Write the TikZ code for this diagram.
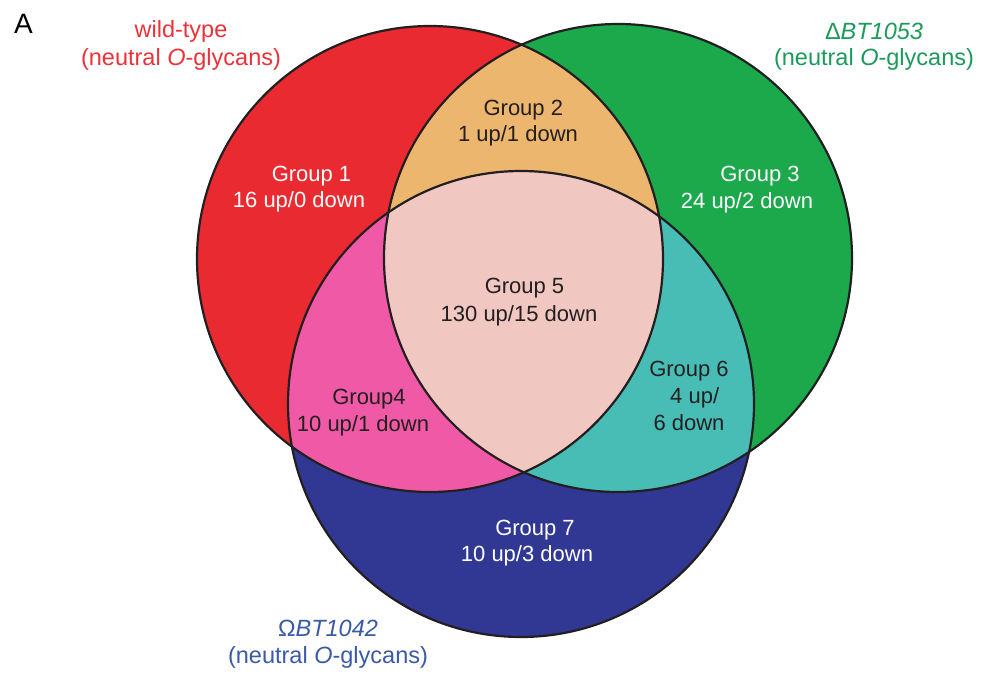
\documentclass[tikz,border=0pt]{standalone}
\usepackage{fontspec}
\setmainfont{Liberation Sans}
\definecolor{vred}{HTML}{EA2A31}
\definecolor{vgreen}{HTML}{1BA94C}
\definecolor{vblue}{HTML}{313894}
\definecolor{vorange}{HTML}{ECB66E}
\definecolor{vpink}{HTML}{F059A6}
\definecolor{vteal}{HTML}{48BDB6}
\definecolor{vcenter}{HTML}{F1C7C2}
\definecolor{lineblack}{HTML}{231F20}
\definecolor{tred}{HTML}{EC3239}
\definecolor{tgreen}{HTML}{1B9A5A}
\definecolor{tblue}{HTML}{3A5AA8}
\begin{document}
\begin{tikzpicture}[x=1pt,y=-1pt,
  grp/.style={anchor=base,inner sep=0pt,font=\fontsize{22}{27}\selectfont},
  gwhite/.style={grp,text=white},
  gdark/.style={grp,text=lineblack},
  lbl/.style={anchor=base,inner sep=0pt,font=\fontsize{23.5}{28}\selectfont},
  ring/.style={draw=lineblack,line width=2.2pt}]
\useasboundingbox (0,0) rectangle (984,678);
\coordinate (cr) at (430,259);
\coordinate (cg) at (618,258);
\coordinate (cb) at (521,404);
% base circles
\fill[vred] (cr) circle[radius=233pt];
\fill[vgreen] (cg) circle[radius=234pt];
\fill[vblue] (cb) circle[radius=233pt];
% pairwise intersections
\begin{scope}
  \clip (cr) circle[radius=233pt];
  \fill[vorange] (cg) circle[radius=234pt];
\end{scope}
\begin{scope}
  \clip (cr) circle[radius=233pt];
  \fill[vpink] (cb) circle[radius=233pt];
\end{scope}
\begin{scope}
  \clip (cg) circle[radius=234pt];
  \fill[vteal] (cb) circle[radius=233pt];
\end{scope}
\begin{scope}
  \clip (cr) circle[radius=233pt];
  \clip (cg) circle[radius=234pt];
  \fill[vcenter] (cb) circle[radius=233pt];
\end{scope}
% outlines
\draw[ring] (cr) circle[radius=233pt];
\draw[ring] (cg) circle[radius=234pt];
\draw[ring] (cb) circle[radius=233pt];
% panel letter
\node[anchor=base west,inner sep=0pt,font=\fontsize{28}{32}\selectfont] (panel) at (14,33) {A};
% set labels
\node[lbl,text=tred] (wt1) at (181,37.7) {wild-type};
\node[lbl,text=tred] (wt2) at (181,65) {(neutral \textit{O}-glycans)};
\node[lbl,text=tgreen] (d1) at (874,39) {Δ\textit{BT1053}};
\node[lbl,text=tgreen] (d2) at (874,65) {(neutral \textit{O}-glycans)};
\node[lbl,text=tblue] (o1) at (328,636.7) {Ω\textit{BT1042}};
\node[lbl,text=tblue] (o2) at (328,663) {(neutral \textit{O}-glycans)};
% group labels
\node[gwhite] (g1a) at (311.5,181) {Group 1};
\node[gwhite] (g1b) at (299,207.3) {16 up/0 down};
\node[gdark] (g2a) at (523.3,115) {Group 2};
\node[gdark] (g2b) at (518,141.7) {1 up/1 down};
\node[gwhite] (g3a) at (760,181.7) {Group 3};
\node[gwhite] (g3b) at (747,208.3) {24 up/2 down};
\node[gdark] (g5a) at (524.5,293.3) {Group 5};
\node[gdark] (g5b) at (519,321) {130 up/15 down};
\node[gdark] (g4a) at (369,404.3) {Group4};
\node[gdark] (g4b) at (363,431.7) {10 up/1 down};
\node[gdark] (g6a) at (689,376.7) {Group 6};
\node[gdark] (g6b) at (694.7,403.3) {4 up/};
\node[gdark] (g6c) at (689,430) {6 down};
\node[gwhite] (g7a) at (535,535) {Group 7};
\node[gwhite] (g7b) at (527,561.7) {10 up/3 down};
\end{tikzpicture}
\end{document}
